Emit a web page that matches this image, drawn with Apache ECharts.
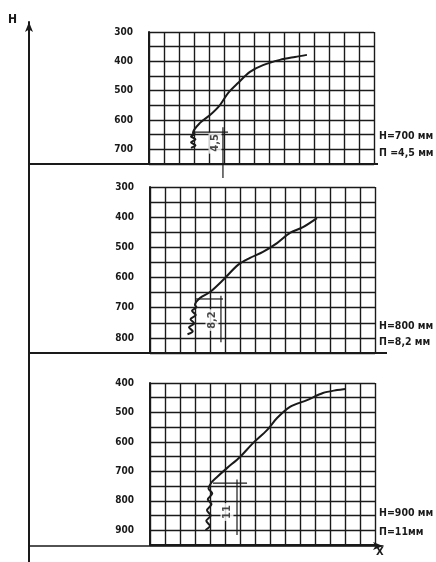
<!DOCTYPE html>
<html>
<head>
<meta charset="utf-8">
<script src="https://cdn.jsdelivr.net/npm/echarts@6/dist/echarts.min.js"></script>
<style>
  html, body { margin: 0; padding: 0; background: #fff; }
  #main { width: 436px; height: 562px; }
</style>
</head>
<body>
<div id="main"></div>
<script>
// кривые по трём опытам: [x (клетки), глубина]
const curve700 = [[2.8,695],[3.1,686],[2.8,676],[3.1,666],[2.8,656],[3.05,648],[2.93,644],[3.4,610],[4.07,583],[4.73,549],[5.27,508],[5.93,474],[6.73,436],[7.6,413],[8.73,395],[9.73,385],[10.53,378]];
const curve800 = [[2.5,788],[2.85,778],[2.6,765],[2.95,752],[2.7,738],[3.05,724],[2.8,710],[3.1,698],[3.0,691],[3.33,668],[4.0,648],[4.87,608],[5.87,558],[6.67,535],[7.53,515],[8.47,486],[9.33,452],[10.2,433],[11.13,403]];
const curve900 = [[3.7,899],[4.0,885],[3.75,868],[4.05,850],[3.8,832],[4.1,812],[3.85,795],[4.15,775],[3.9,758],[4.13,736],[4.47,719],[5.13,689],[6.0,651],[6.87,604],[7.8,560],[8.47,519],[9.33,481],[10.47,458],[11.53,434],[12.47,424],[13.0,420]];

// размерные линии П
const dimH700 = [[3.07,641],[5.27,641]];
const dimV700 = [[4.93,625],[4.93,798]];
const dimH800 = [[3.0,671],[4.87,671]];
const dimV800 = [[4.73,660],[4.73,814]];
const dimH900 = [[4.2,740],[6.47,740]];
const dimV900 = [[5.8,728],[5.8,916]];
const dimLabels = [['4,5', 4.4, 678], ['8,2', 4.13, 741], ['11', 5.13, 838]];

const yRanges = [[300, 750], [300, 850], [400, 950]];
const noteH = ['Н=700 мм', 'Н=800 мм', 'Н=900 мм'];
const noteP = ['П =4,5 мм', 'П=8,2 мм', 'П=11мм'];

const ink = '#1a1a1a';
const font = 'DejaVu Sans Condensed';

let myChart = echarts.init(document.getElementById('main'));

const grids = [
    { left: 149, top: 32, width: 225, height: 132 },
    { left: 150, top: 187, width: 225, height: 166 },
    { left: 150, top: 383, width: 225, height: 162 },
    { left: 29, top: 22, right: 53, bottom: 16 }   // общие оси
];

let xAxes = [], yAxes = [];
for (let i = 0; i < 3; i++) {
    xAxes.push({
        gridIndex: i, type: 'value', min: 0, max: 15, interval: 1,
        axisLine: { show: true, onZero: false, lineStyle: { color: ink, width: 2 } },
        axisTick: { show: false }, axisLabel: { show: false },
        splitLine: { show: true, lineStyle: { color: ink, width: 1.4 } }
    });
    yAxes.push({
        gridIndex: i, type: 'value', inverse: true,
        min: yRanges[i][0], max: yRanges[i][1], interval: 50,
        axisLine: { show: true, lineStyle: { color: ink, width: 2 } },
        axisTick: { show: false },
        axisLabel: {
            margin: 16, color: ink, fontFamily: font, fontWeight: 'bold', fontSize: 10,
            formatter: function (v) { return v % 100 === 0 ? v : ''; }
        },
        splitLine: { show: true, lineStyle: { color: ink, width: 1.4 } }
    });
}
// рамка: ось X и ось H со стрелками
xAxes.push({
    gridIndex: 3, type: 'value', min: 0, max: 1,
    axisLine: { show: true, onZero: false, symbol: ['none', 'arrow'], symbolSize: [6, 10], lineStyle: { color: ink, width: 1.5 } },
    axisTick: { show: false }, axisLabel: { show: false }, splitLine: { show: false }
});
yAxes.push({
    gridIndex: 3, type: 'value', min: 0, max: 1,
    axisLine: { show: true, onZero: false, symbol: ['none', 'arrow'], symbolSize: [6, 10], lineStyle: { color: ink, width: 2 } },
    axisTick: { show: false }, axisLabel: { show: false }, splitLine: { show: false }
});

function line(idx, data, width, smooth) {
    return {
        type: 'line', xAxisIndex: idx, yAxisIndex: idx, data: data,
        showSymbol: false, clip: false, animation: false, silent: true,
        smooth: smooth || false,
        lineStyle: { color: ink, width: width }
    };
}

let series = [
    line(0, curve700, 2, 0.3), line(1, curve800, 2, 0.3), line(2, curve900, 2, 0.3),
    line(0, dimH700, 1.2), line(0, dimV700, 1.2),
    line(1, dimH800, 1.2), line(1, dimV800, 1.2),
    line(2, dimH900, 1.2), line(2, dimV900, 1.2)
];
dimLabels.forEach(function (d, i) {
    series.push({
        type: 'scatter', xAxisIndex: i, yAxisIndex: i, symbolSize: 0, animation: false, silent: true,
        data: [[d[1], d[2]]],
        label: {
            show: true, formatter: d[0], rotate: 90, position: 'inside',
            color: ink, fontFamily: font, fontWeight: 'bold', fontSize: 11,
            backgroundColor: '#fff', padding: [1, 2]
        }
    });
});

let graphic = [
    { type: 'line', shape: { x1: 29, y1: 164, x2: 378, y2: 164 }, style: { stroke: ink, lineWidth: 2 } },
    { type: 'line', shape: { x1: 29, y1: 353, x2: 387, y2: 353 }, style: { stroke: ink, lineWidth: 2 } },
    { type: 'line', shape: { x1: 29, y1: 546, x2: 29, y2: 562 }, style: { stroke: ink, lineWidth: 2 } },
    { type: 'text', left: 8, top: 14, style: { text: 'Н', fill: ink, font: 'bold 12px "' + font + '"' } },
    { type: 'text', left: 376, top: 547, style: { text: 'X', fill: ink, font: 'bold 11px "' + font + '"' } }
];
const noteTops = [[131, 148], [321, 337], [508, 527]];
for (let i = 0; i < 3; i++) {
    graphic.push({ type: 'text', left: 379, top: noteTops[i][0], style: { text: noteH[i], fill: ink, font: 'bold 10.5px "' + font + '"' } });
    graphic.push({ type: 'text', left: 379, top: noteTops[i][1], style: { text: noteP[i], fill: ink, font: 'bold 10.5px "' + font + '"' } });
}

myChart.setOption({
    animation: false,
    grid: grids,
    xAxis: xAxes,
    yAxis: yAxes,
    series: series,
    graphic: graphic
});

window.addEventListener('resize', function () {
    myChart.resize();
});
</script>
</body>
</html>
